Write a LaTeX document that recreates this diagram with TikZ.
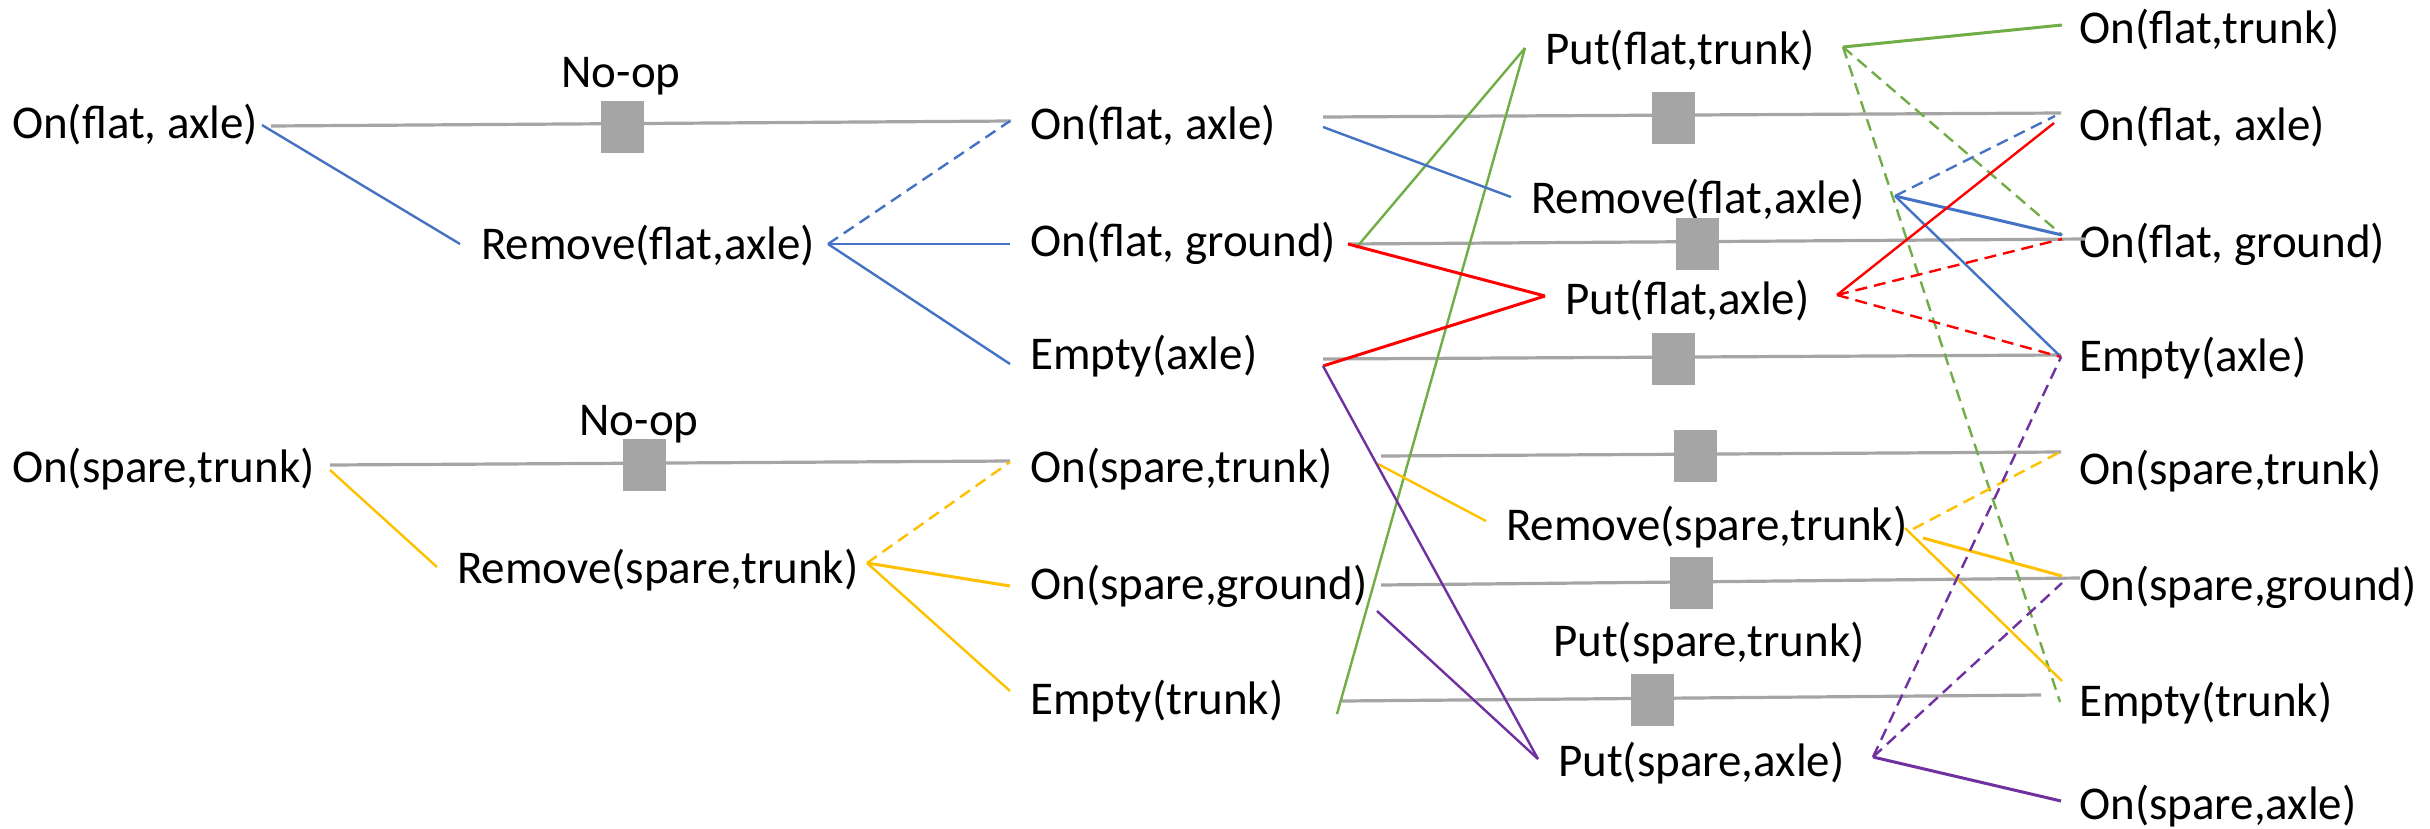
\documentclass[tikz,border=0pt]{standalone}
\usepackage{fontspec}
\setmainfont{Carlito}
\definecolor{cgray}{HTML}{A5A5A5}
\definecolor{cblue}{HTML}{4472C4}
\definecolor{cyel}{HTML}{FFC000}
\definecolor{cgreen}{HTML}{70AD47}
\definecolor{cred}{HTML}{FF0000}
\definecolor{cpurp}{HTML}{7030A0}
\begin{document}
\begin{tikzpicture}[x=1pt,y=-1pt,
  lbl/.style={inner sep=0pt,anchor=west,font=\fontsize{47}{56}\selectfont},
  nolbl/.style={inner sep=0pt,font=\fontsize{47}{56}\selectfont},
  opbox/.style={fill=cgray,draw=none,minimum width=43pt,minimum height=52pt,inner sep=0pt},
  persist/.style={draw=cgray,line width=3.2pt},
  ln/.style={line width=2.4pt},
  thk/.style={line width=3pt},
  dsh/.style={line width=2.4pt,dash pattern=on 12pt off 7pt}]
\useasboundingbox (0,0) rectangle (2430,828);

% ---------- text nodes ----------
\node[lbl] (L1) at (12,125) {On(flat, axle)};
\node[lbl] (L2) at (12,469) {On(spare,trunk)};
\node[nolbl] (nop1) at (621,76) {No-op};
\node[nolbl] (nop2) at (639,424) {No-op};
\node[lbl] (RA1) at (481,246) {Remove(flat,axle)};
\node[lbl] (RA2) at (457,570) {Remove(spare,trunk)};

\node[lbl] (M1) at (1030,126) {On(flat, axle)};
\node[lbl] (M2) at (1030,243) {On(flat, ground)};
\node[lbl] (M3) at (1030,356) {Empty(axle)};
\node[lbl] (M4) at (1030,469) {On(spare,trunk)};
\node[lbl] (M5) at (1030,586) {On(spare,ground)};
\node[lbl] (M6) at (1030,701) {Empty(trunk)};

\node[lbl] (A1) at (1545,51) {Put(flat,trunk)};
\node[lbl] (A2) at (1531,200) {Remove(flat,axle)};
\node[lbl] (A3) at (1565,301) {Put(flat,axle)};
\node[lbl] (A4) at (1506,527) {Remove(spare,trunk)};
\node[lbl] (A5) at (1553,643) {Put(spare,trunk)};
\node[lbl] (A6) at (1558,763) {Put(spare,axle)};

\node[lbl] (R1) at (2079,30) {On(flat,trunk)};
\node[lbl] (R2) at (2079,127) {On(flat, axle)};
\node[lbl] (R3) at (2079,244) {On(flat, ground)};
\node[lbl] (R4) at (2079,358) {Empty(axle)};
\node[lbl] (R5) at (2079,471) {On(spare,trunk)};
\node[lbl] (R6) at (2079,587) {On(spare,ground)};
\node[lbl] (R7) at (2079,703) {Empty(trunk)};
\node[lbl] (R8) at (2079,806) {On(spare,axle)};

% ---------- attachment points ----------
\coordinate (L1g) at (271,126);  \coordinate (M1gi) at (1011,121);
\coordinate (L1c) at (262,125);  \coordinate (RA1w) at (460,244);
\coordinate (RA1e) at (828,244);
\coordinate (M1i) at (1010,121); \coordinate (M2i) at (1010,244); \coordinate (M3i) at (1010,364);
\coordinate (L2g) at (330,465);  \coordinate (M4gi) at (1010,461);
\coordinate (L2c) at (330,470);  \coordinate (RA2w) at (437,567);
\coordinate (RA2e) at (867,563);
\coordinate (M4i) at (1010,462); \coordinate (M5i) at (1010,586); \coordinate (M6i) at (1010,691);

\coordinate (M1g) at (1323,117); \coordinate (R2g) at (2061,113);
\coordinate (M2g) at (1348,244); \coordinate (R3g) at (2085,239);
\coordinate (M3g) at (1323,359); \coordinate (R4g) at (2061,355);
\coordinate (M4g) at (1381,456); \coordinate (R5g) at (2061,452);
\coordinate (M5g) at (1381,585); \coordinate (R6g) at (2080,578);
\coordinate (M6g) at (1342,701); \coordinate (R7g) at (2041,695);

\coordinate (M1o) at (1323,127);
\coordinate (M2o) at (1356,248); \coordinate (M2r) at (1348,244);
\coordinate (M3o) at (1323,366);
\coordinate (M4o) at (1378,464);
\coordinate (M5o) at (1377,611);
\coordinate (M6o) at (1337,714);

\coordinate (A1w) at (1525,48);  \coordinate (A1e) at (1843,47);
\coordinate (A2w) at (1511,197); \coordinate (A2e) at (1895,196);
\coordinate (A3w) at (1545,296); \coordinate (A3e) at (1837,295);
\coordinate (A4w) at (1486,521); \coordinate (A4e) at (1905,528);
\coordinate (A4d) at (1913,529); \coordinate (A4s) at (1923,538);
\coordinate (A6w) at (1538,759); \coordinate (A6e) at (1873,757);

\coordinate (R1i) at (2062,25);
\coordinate (R2i) at (2055,116); \coordinate (R2j) at (2054,123);
\coordinate (R3i) at (2062,235); \coordinate (R3j) at (2062,239);
\coordinate (R4i) at (2061,357);
\coordinate (R5i) at (2058,453);
\coordinate (R6i) at (2062,576); \coordinate (R6j) at (2062,583);
\coordinate (R7i) at (2062,681); \coordinate (R7j) at (2060,702);
\coordinate (R8i) at (2061,801);

% ---------- persistence (no-op) lines ----------
\draw[persist] (L1g) -- (M1gi);
\draw[persist] (L2g) -- (M4gi);
\draw[persist] (M1g) -- (R2g);
\draw[persist] (M2g) -- (R3g);
\draw[persist] (M3g) -- (R4g);
\draw[persist] (M4g) -- (R5g);
\draw[persist] (M5g) -- (R6g);
\draw[persist] (M6g) -- (R7g);

% ---------- level 0 actions ----------
\draw[ln,cblue] (L1c) -- (RA1w);
\draw[dsh,cblue] (RA1e) -- (M1i);
\draw[ln,cblue] (RA1e) -- (M2i);
\draw[ln,cblue] (RA1e) -- (M3i);

\draw[ln,cyel] (L2c) -- (RA2w);
\draw[dsh,cyel] (RA2e) -- (M4i);
\draw[thk,cyel] (RA2e) -- (M5i);
\draw[ln,cyel] (RA2e) -- (M6i);

% ---------- level 1 actions ----------
\draw[ln,cgreen] (M2o) -- (A1w);
\draw[ln,cgreen] (M6o) -- (A1w);
\draw[thk,cgreen] (A1e) -- (R1i);
\draw[dsh,cgreen] (A1e) -- (R3i);
\draw[dsh,cgreen] (A1e) -- (R7j);

\draw[ln,cblue] (M1o) -- (A2w);
\draw[dsh,cblue] (A2e) -- (R2i);
\draw[thk,cblue] (A2e) -- (R3i);
\draw[ln,cblue] (A2e) -- (R4i);

\draw[thk,cred] (M2r) -- (A3w);
\draw[thk,cred] (M3o) -- (A3w);
\draw[ln,cred] (A3e) -- (R2j);
\draw[dsh,cred] (A3e) -- (R3j);
\draw[dsh,cred] (A3e) -- (R4i);

\draw[ln,cyel] (M4o) -- (A4w);
\draw[dsh,cyel] (A4d) -- (R5i);
\draw[thk,cyel] (A4s) -- (R6i);
\draw[ln,cyel] (A4e) -- (R7i);

\draw[ln,cpurp] (M3o) -- (A6w);
\draw[ln,cpurp] (M5o) -- (A6w);
\draw[dsh,cpurp] (A6e) -- (R4i);
\draw[dsh,cpurp] (A6e) -- (R6j);
\draw[thk,cpurp] (A6e) -- (R8i);

% ---------- no-op boxes ----------
\node[opbox] (B0a) at (622,127) {};
\node[opbox] (B0b) at (644,465) {};
\node[opbox] (B1) at (1673.5,118) {};
\node[opbox] (B2) at (1697.5,244) {};
\node[opbox] (B3) at (1673.5,359) {};
\node[opbox] (B4) at (1695.5,456) {};
\node[opbox] (B5) at (1691.5,583) {};
\node[opbox] (B6) at (1652.5,700) {};
\end{tikzpicture}
\end{document}
